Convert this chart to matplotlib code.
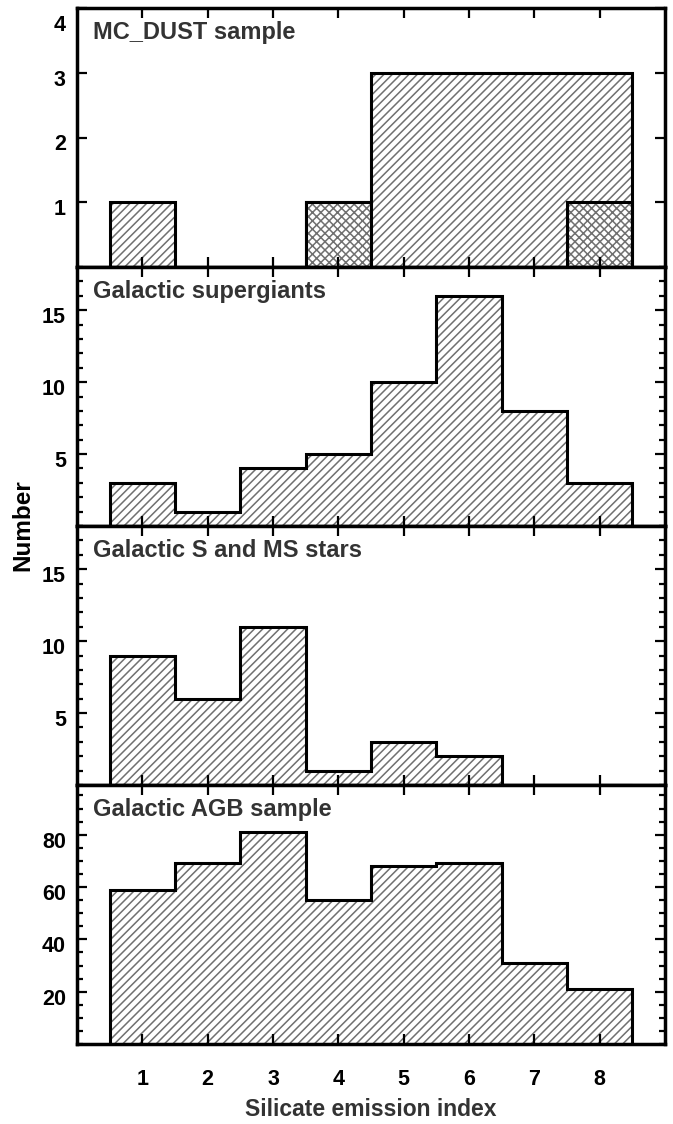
import numpy as np
import matplotlib
matplotlib.use("Agg")
import matplotlib.pyplot as plt
from matplotlib.ticker import FixedLocator, MultipleLocator
from matplotlib.transforms import ScaledTranslation

plt.rcParams['font.family'] = ['Liberation Sans', 'DejaVu Sans']
plt.rcParams['font.weight'] = 'bold'
plt.rcParams['hatch.linewidth'] = 1.1

# silicate emission index bins
idx = np.arange(1, 9)
edges = np.arange(0.5, 9.0, 1.0)

# counts per bin
mc_dust = [1, 0, 0, 1, 3, 3, 3, 3]
mc_dust_sub = [0, 0, 0, 1, 0, 0, 0, 1]   # cross-hatched part
supergiants = [3, 1, 4, 5, 10, 16, 8, 3]
s_ms_stars = [9, 6, 11, 1, 3, 2, 0, 0]
agb = [59, 69, 81, 55, 68, 69, 31, 21]

titles = ["MC_DUST sample", "Galactic supergiants",
          "Galactic S and MS stars", "Galactic AGB sample"]
series = [mc_dust, supergiants, s_ms_stars, agb]
ylims = [4, 18, 18, 99]
majors = [[1, 2, 3, 4], [5, 10, 15], [5, 10, 15], [20, 40, 60, 80]]
minor_step = [None, 1, 1, 5]

hatch_col = '#707070'
text_col = '#333333'

fig = plt.figure(figsize=(6.73, 11.24), dpi=100)
gs = fig.add_gridspec(4, 1, left=77/673, right=665/673,
                      top=1-8/1124, bottom=1-1044/1124, hspace=0)

for i in range(4):
    ax = fig.add_subplot(gs[i])
    vals = np.array(series[i], dtype=float)
    ax.stairs(vals, edges, baseline=0, fill=True, facecolor='white',
              edgecolor=hatch_col, hatch='////', linewidth=0)
    if i == 0:
        sub = np.array(mc_dust_sub, dtype=float)
        m = sub > 0
        ax.bar(idx[m], sub[m], width=1.0, facecolor='white',
               edgecolor=hatch_col, hatch='xxxx', linewidth=0)
        ax.bar(idx[m], sub[m], width=1.0, fill=False,
               edgecolor='black', linewidth=2.2)
    ax.stairs(vals, edges, baseline=0, fill=False, color='black',
              linewidth=2.2)

    ax.set_xlim(0, 9)
    ax.set_ylim(0, ylims[i])
    ax.xaxis.set_major_locator(FixedLocator(idx))
    ax.yaxis.set_major_locator(FixedLocator(majors[i]))
    if minor_step[i]:
        ax.yaxis.set_minor_locator(MultipleLocator(minor_step[i]))
    ax.tick_params(which='both', direction='in', top=True, right=True,
                   width=1.6, colors='black')
    ax.tick_params(which='major', length=7.5, labelsize=15.5)
    ax.tick_params(which='minor', length=4)
    ax.tick_params(axis='y', pad=8)
    ax.tick_params(axis='x', pad=18)
    ylabs = ax.get_yticklabels()
    for k, lab in enumerate(ylabs):
        dy = -5 if not (i == 0 and k == len(ylabs) - 1) else -15
        lab.set_transform(lab.get_transform() +
                          ScaledTranslation(0, dy/100, fig.dpi_scale_trans))
    if i < 3:
        ax.tick_params(axis='x', labelbottom=False)
    for sp in ax.spines.values():
        sp.set_linewidth(2.5)
    ax.text(0.028, 0.905, titles[i], transform=ax.transAxes,
            fontsize=17, fontweight='bold', color=text_col,
            ha='left', va='center')

ax.set_xlabel("Silicate emission index", fontsize=16.5,
              fontweight='bold', color=text_col, labelpad=6)
fig.text(23/673, 1-525/1124, "Number", rotation=90, fontsize=17.5,
         fontweight='bold', color='black', ha='center', va='center')

fig.savefig("out.png", dpi=100)
